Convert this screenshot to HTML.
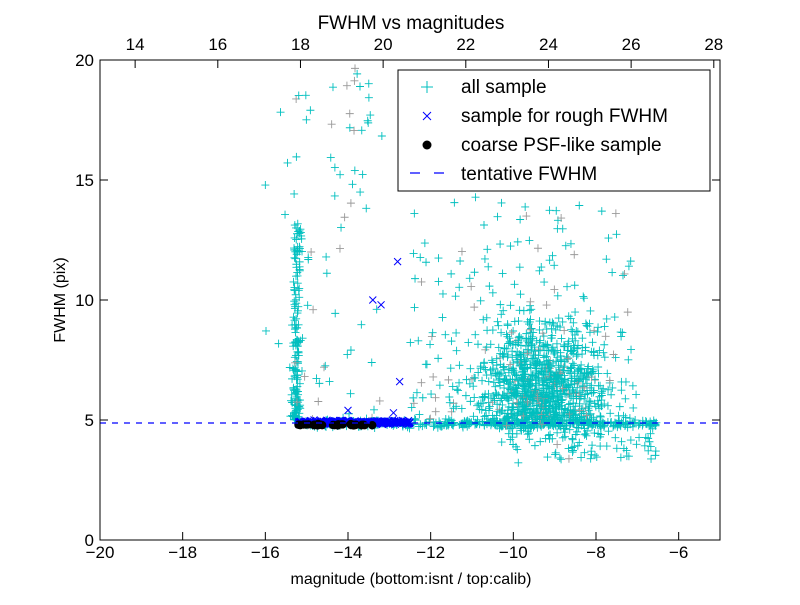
<!DOCTYPE html>
<html><head><meta charset="utf-8"><style>
body{margin:0;background:#fff;}
svg text{font-family:"Liberation Sans","DejaVu Sans",sans-serif;}
</style></head><body>
<svg id="s" width="800" height="600" xmlns="http://www.w3.org/2000/svg">
<rect width="800" height="600" fill="#fff"/>
<g id="pts"></g>
<line x1="100" y1="423" x2="720" y2="423" stroke="#0000ff" stroke-width="1.2" stroke-dasharray="6,6"/>
<rect x="100" y="60" width="620" height="480" fill="none" stroke="#000" stroke-width="1"/>
<g id="ticks" stroke="#000" stroke-width="1"></g>
<g id="labels" font-size="17" fill="#000"></g>
<text x="411" y="29" font-size="19" text-anchor="middle">FWHM vs magnitudes</text>
<text x="411" y="584" font-size="16" text-anchor="middle">magnitude (bottom:isnt / top:calib)</text>
<text x="65" y="300" font-size="16" text-anchor="middle" transform="rotate(-90 65 300)">FWHM (pix)</text>
<rect x="398" y="70" width="312" height="121" fill="#fff" stroke="#000"/>
<g font-size="19">
<path d="M421 87h12M427 81v12" stroke="#00bfbf" stroke-width="1"/><text x="461" y="93">all sample</text>
<path d="M423 112l8 8M431 112l-8 8" stroke="#0000ff" stroke-width="1"/><text x="461" y="122">sample for rough FWHM</text>
<circle cx="427" cy="145" r="4.5" fill="#000"/><text x="461" y="151">coarse PSF-like sample</text>
<path d="M410 173h10M434 173h10" stroke="#0000ff" stroke-width="1.2"/><text x="461" y="180">tentative FWHM</text>
</g>
</svg>
<script>
var seed=7;function r(){seed=(seed*16807)%2147483647;return (seed-1)/2147483646;}
function g(){return (r()+r()+r()+r()-2)/1.15;}
function n(){return Math.sqrt(-2*Math.log(r()+1e-9))*Math.cos(6.2832*r());}
function X(m){return 100+(m+20)*620/15;}function Y(f){return 540-f*24;}
var P=document.getElementById('pts'),s="";
function plus(m,f,c){var x=X(m),y=Y(f);if(x<100||x>720||y<60||y>540)return;s+='<path d="M'+(x-4)+' '+y+'h8M'+x+' '+(y-4)+'v8" stroke="'+c+'" stroke-width="0.9" fill="none"/>';}
function cross(m,f){var x=X(m),y=Y(f);s+='<path d="M'+(x-3.5)+' '+(y-3.5)+'l7 7M'+(x+3.5)+' '+(y-3.5)+'l-7 7" stroke="#0000ff" stroke-width="1" fill="none"/>';}
function dot(m,f){s+='<circle cx="'+X(m)+'" cy="'+Y(f)+'" r="4.2" fill="#000"/>';}
var C="#00bfbf",G="#999";
for(var i=0;i<160;i++){plus(-15.25+g()*0.1,5+Math.pow(r(),1.6)*8.2,C);}
for(i=0;i<70;i++){var m=-15.3+r()*2.2;plus(m,5+Math.pow(r(),1.2)*15,r()<0.25?G:C);}
for(i=0;i<8;i++){plus(-16+r()*0.8,6+r()*12,C);}
for(i=0;i<450;i++){plus(-15.2+r()*8.7,4.85+g()*0.15,C);}
for(i=0;i<1000;i++){var m=-9.3+n()*0.75,f=6.8+n()*1.3;if(r()<0.3){f=5.0+Math.abs(n())*1.2;}if(f<2.8)f=2.8+r();if(m>-6.3)m=-6.3-r()*0.5;plus(m,f,r()<0.07?G:C);}
for(i=0;i<200;i++){plus(-12.5+r()*5.5,5+Math.pow(r(),1.8)*9.5,r()<0.15?G:C);}
for(i=0;i<60;i++){plus(-9+r()*2.5,3.3+r()*1.6,C);}
for(i=0;i<300;i++){cross(-15.2+r()*2.7,4.9+g()*0.08);}
cross(-12.8,11.6);cross(-13.4,10);cross(-13.2,9.8);cross(-12.75,6.6);cross(-14,5.4);cross(-12.9,5.3);
for(i=0;i<40;i++){dot(-15.2+r()*1.8,4.8+g()*0.03);}
P.innerHTML=s;
var T=document.getElementById('ticks'),L=document.getElementById('labels'),t="",l="";
for(var v=-20;v<=-6;v+=2){var x=X(v);t+='<line x1="'+x+'" y1="540" x2="'+x+'" y2="532"/>';l+='<text x="'+x+'" y="558" text-anchor="middle">\u2212'+(-v)+'</text>';}
for(v=14;v<=28;v+=2){var x=X(v-33.15);t+='<line x1="'+x+'" y1="60" x2="'+x+'" y2="68"/>';l+='<text x="'+x+'" y="50" text-anchor="middle">'+v+'</text>';}
for(v=0;v<=20;v+=5){var y=Y(v);t+='<line x1="100" y1="'+y+'" x2="108" y2="'+y+'"/><line x1="720" y1="'+y+'" x2="712" y2="'+y+'"/>';l+='<text x="94" y="'+(y+6)+'" text-anchor="end">'+v+'</text>';}
T.innerHTML=t;L.innerHTML=l;
</script>
</body></html>
